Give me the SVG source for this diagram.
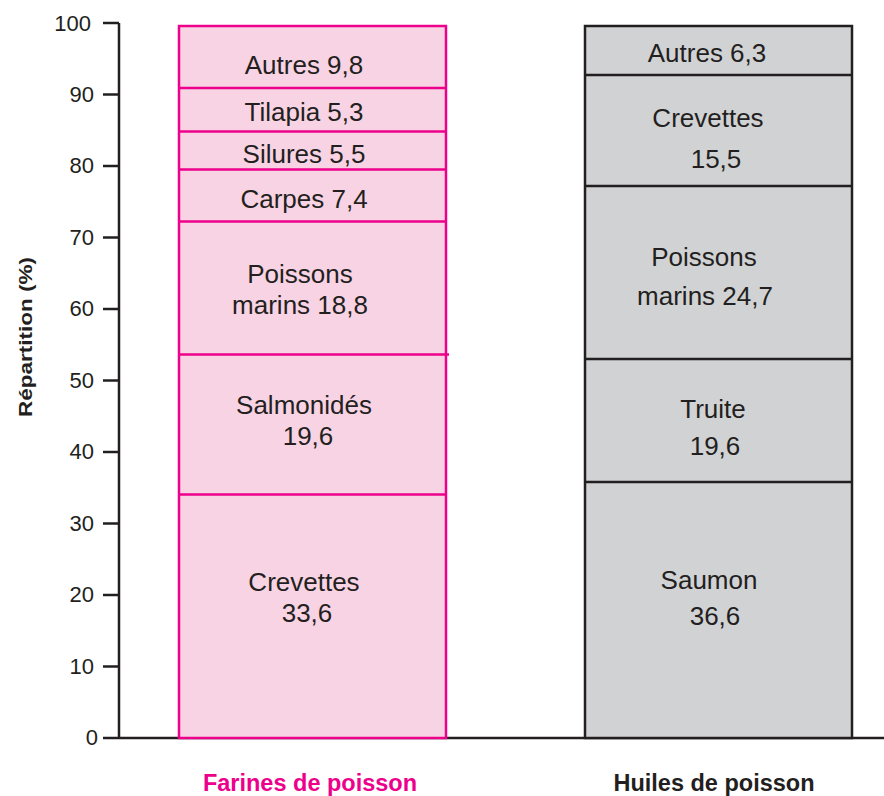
<svg xmlns="http://www.w3.org/2000/svg" width="884" height="796" viewBox="0 0 884 796">
<style>
.lbl{font-family:"Liberation Sans",Arial,sans-serif;font-size:26px;fill:#231f20;text-anchor:middle}
.tick{font-family:"Liberation Sans",Arial,sans-serif;font-size:22px;fill:#231f20;text-anchor:end}
.ax{stroke:#231f20;stroke-width:2.5;fill:none}
.pink{fill:#f8d3e4;stroke:#ec008c;stroke-width:2.5}
.pdiv{stroke:#ec008c;stroke-width:2.5}
.grey{fill:#d1d2d4;stroke:#231f20;stroke-width:2.5}
.gdiv{stroke:#231f20;stroke-width:2.5}
.cat{font-family:"Liberation Sans",Arial,sans-serif;font-size:23.5px;font-weight:bold;text-anchor:middle}
</style>
<rect width="884" height="796" fill="#ffffff"/>
<g id="axis">
<line class="ax" x1="119" y1="23" x2="119" y2="738"/>
<line class="ax" x1="103" y1="738" x2="884" y2="738"/>
<line class="ax" x1="103" y1="23" x2="119" y2="23"/>
<line class="ax" x1="103" y1="94.5" x2="119" y2="94.5"/>
<line class="ax" x1="103" y1="166" x2="119" y2="166"/>
<line class="ax" x1="103" y1="237.5" x2="119" y2="237.5"/>
<line class="ax" x1="103" y1="309" x2="119" y2="309"/>
<line class="ax" x1="103" y1="380.5" x2="119" y2="380.5"/>
<line class="ax" x1="103" y1="452" x2="119" y2="452"/>
<line class="ax" x1="103" y1="523.5" x2="119" y2="523.5"/>
<line class="ax" x1="103" y1="595" x2="119" y2="595"/>
<line class="ax" x1="103" y1="666.5" x2="119" y2="666.5"/>
<text class="tick" x="91" y="31">100</text>
<text class="tick" x="94" y="102">90</text>
<text class="tick" x="94" y="173">80</text>
<text class="tick" x="94" y="245">70</text>
<text class="tick" x="94" y="316">60</text>
<text class="tick" x="94" y="388">50</text>
<text class="tick" x="94" y="459">40</text>
<text class="tick" x="94" y="531">30</text>
<text class="tick" x="94" y="602">20</text>
<text class="tick" x="94" y="674">10</text>
<text class="tick" x="98" y="745">0</text>
<text transform="translate(32,337) rotate(-90)" font-family="Liberation Sans,Arial,sans-serif" font-size="19" font-weight="bold" fill="#231f20" text-anchor="middle" textLength="160" lengthAdjust="spacingAndGlyphs">Répartition (%)</text>
</g>
<g id="farines">
<rect class="pink" x="179" y="26" width="267" height="712"/>
<line class="pdiv" x1="179" y1="88" x2="446" y2="88"/>
<line class="pdiv" x1="179" y1="131.5" x2="446" y2="131.5"/>
<line class="pdiv" x1="179" y1="169.5" x2="446" y2="169.5"/>
<line class="pdiv" x1="179" y1="221.5" x2="446" y2="221.5"/>
<line class="pdiv" x1="179" y1="354.5" x2="449" y2="354.5"/>
<line class="pdiv" x1="179" y1="494.5" x2="446" y2="494.5"/>
<text class="lbl" x="304" y="74">Autres 9,8</text>
<text class="lbl" x="304" y="121">Tilapia 5,3</text>
<text class="lbl" x="304" y="163">Silures 5,5</text>
<text class="lbl" x="304" y="208">Carpes 7,4</text>
<text class="lbl" x="300" y="283">Poissons</text>
<text class="lbl" x="300" y="314">marins 18,8</text>
<text class="lbl" x="304" y="414">Salmonidés</text>
<text class="lbl" x="308" y="445">19,6</text>
<text class="lbl" x="304" y="591">Crevettes</text>
<text class="lbl" x="307" y="622">33,6</text>
<text class="cat" x="310" y="791" fill="#ec008c">Farines de poisson</text>
</g>
<g id="huiles">
<rect class="grey" x="585" y="26" width="267" height="712"/>
<line class="gdiv" x1="585" y1="75" x2="852" y2="75"/>
<line class="gdiv" x1="585" y1="186" x2="852" y2="186"/>
<line class="gdiv" x1="585" y1="359" x2="852" y2="359"/>
<line class="gdiv" x1="585" y1="482" x2="852" y2="482"/>
<text class="lbl" x="707" y="62">Autres 6,3</text>
<text class="lbl" x="708" y="127">Crevettes</text>
<text class="lbl" x="716" y="168">15,5</text>
<text class="lbl" x="704" y="266">Poissons</text>
<text class="lbl" x="705" y="305">marins 24,7</text>
<text class="lbl" x="713" y="418">Truite</text>
<text class="lbl" x="715" y="455">19,6</text>
<text class="lbl" x="709" y="589">Saumon</text>
<text class="lbl" x="715" y="625">36,6</text>
<text class="cat" x="714" y="791" fill="#231f20">Huiles de poisson</text>
</g>
</svg>
